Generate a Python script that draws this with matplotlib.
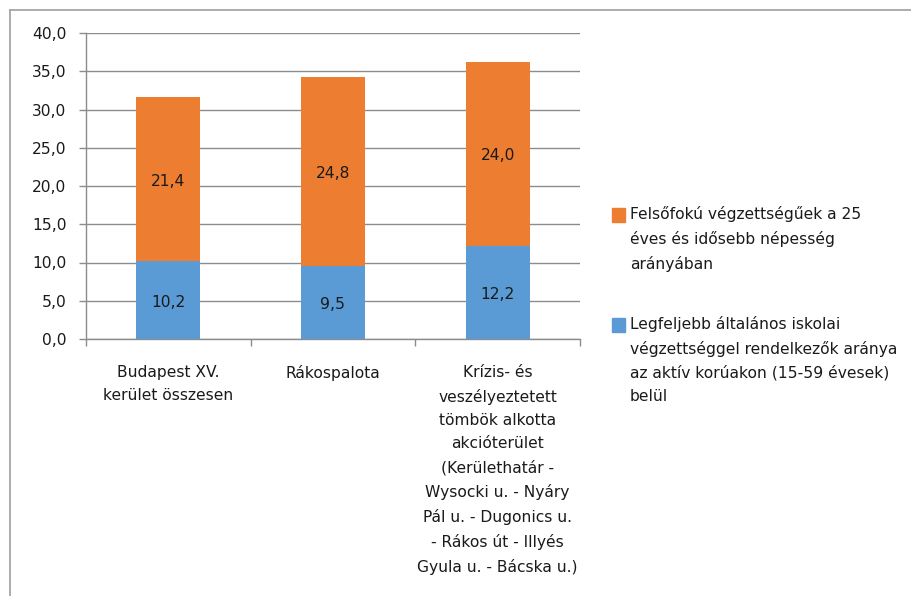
import matplotlib
matplotlib.use("Agg")
import matplotlib.pyplot as plt
from matplotlib.patches import Rectangle
from matplotlib.lines import Line2D
import numpy as np

plt.rcParams['font.family'] = ['DejaVu Sans']

categories = [
    "Budapest XV.\nkerület összesen",
    "Rákospalota",
    "Krízis- és\nveszélyeztetett\ntömbök alkotta\nakcióterület\n(Kerülethatár -\nWysocki u. - Nyáry\nPál u. - Dugonics u.\n- Rákos út - Illyés\nGyula u. - Bácska u.)",
]
elementary = [10.2, 9.5, 12.2]
higher_ed = [21.4, 24.8, 24.0]
series_names = [
    "Felsőfokú végzettségűek a 25\néves és idősebb népesség\narányában",
    "Legfeljebb általános iskolai\nvégzettséggel rendelkezők aránya\naz aktív korúakon (15-59 évesek)\nbelül",
]
yticks = [0, 5, 10, 15, 20, 25, 30, 35, 40]

blue = "#5B9BD5"
orange = "#ED7D31"
grid_c = "#8C8C8C"
text_c = "#1a1a1a"
fs = 11.2
ls = 1.685

W, H = 912, 596
fig = plt.figure(figsize=(W / 100, H / 100), dpi=100)
ax = fig.add_axes([86 / W, 1 - 339 / H, (580 - 86) / W, (339 - 33) / H])

x = np.arange(len(categories))
bw = 0.39
ax.bar(x, elementary, bw, color=blue, zorder=3)
ax.bar(x, higher_ed, bw, bottom=elementary, color=orange, zorder=3)

def fmt(v):
    return f"{v:.1f}".replace(".", ",")

for xi, v in zip(x, elementary):
    ax.annotate(fmt(v), (xi, v / 2), xytext=(0, -1.5), textcoords="offset points",
                ha="center", va="center", fontsize=fs, color=text_c, zorder=4)
for xi, b, v in zip(x, elementary, higher_ed):
    ax.annotate(fmt(v), (xi, b + v / 2), xytext=(0, -1.5), textcoords="offset points",
                ha="center", va="center", fontsize=fs, color=text_c, zorder=4)

ax.set_xlim(-0.5, len(categories) - 0.5)
ax.set_ylim(0, 40)
ax.set_yticks(yticks)
ax.set_yticklabels([fmt(t) for t in yticks], fontsize=fs, color=text_c)
ax.yaxis.grid(True, color=grid_c, linewidth=1.0, zorder=0)
ax.tick_params(axis="y", length=5, color=grid_c, width=1.0, pad=9)

# category boundary ticks on the x axis, labels placed below
ax.set_xticks(np.arange(len(categories) + 1) - 0.5)
ax.set_xticklabels([])
ax.tick_params(axis="x", length=5, color=grid_c, width=1.0, direction="out")
for xi, lab in zip(x, categories):
    ax.text(xi, -3.35, lab, ha="center", va="top", fontsize=fs, color=text_c,
            linespacing=ls, clip_on=False)

for s in ["top", "right"]:
    ax.spines[s].set_visible(False)
for s in ["left", "bottom"]:
    ax.spines[s].set_color(grid_c)
    ax.spines[s].set_linewidth(1.0)

# legend
leg_items = [(orange, series_names[0], 215), (blue, series_names[1], 325)]
for col, lab, ypix in leg_items:
    fig.patches.append(Rectangle((612 / W, 1 - (ypix + 7) / H), 13 / W, 14 / H,
                                 transform=fig.transFigure, color=col))
    fig.text(630 / W, 1 - (ypix - 9) / H, lab, ha="left", va="top", fontsize=fs,
             color=text_c, linespacing=ls)

# chart frame
fig.add_artist(Line2D([10 / W, 10 / W], [1 - 10 / H, 0], transform=fig.transFigure,
                      color="#A6A6A6", linewidth=1.3))
fig.add_artist(Line2D([10 / W, 1], [1 - 10 / H, 1 - 10 / H], transform=fig.transFigure,
                      color="#A6A6A6", linewidth=1.3))

fig.savefig("out.png", dpi=100, facecolor="white")
